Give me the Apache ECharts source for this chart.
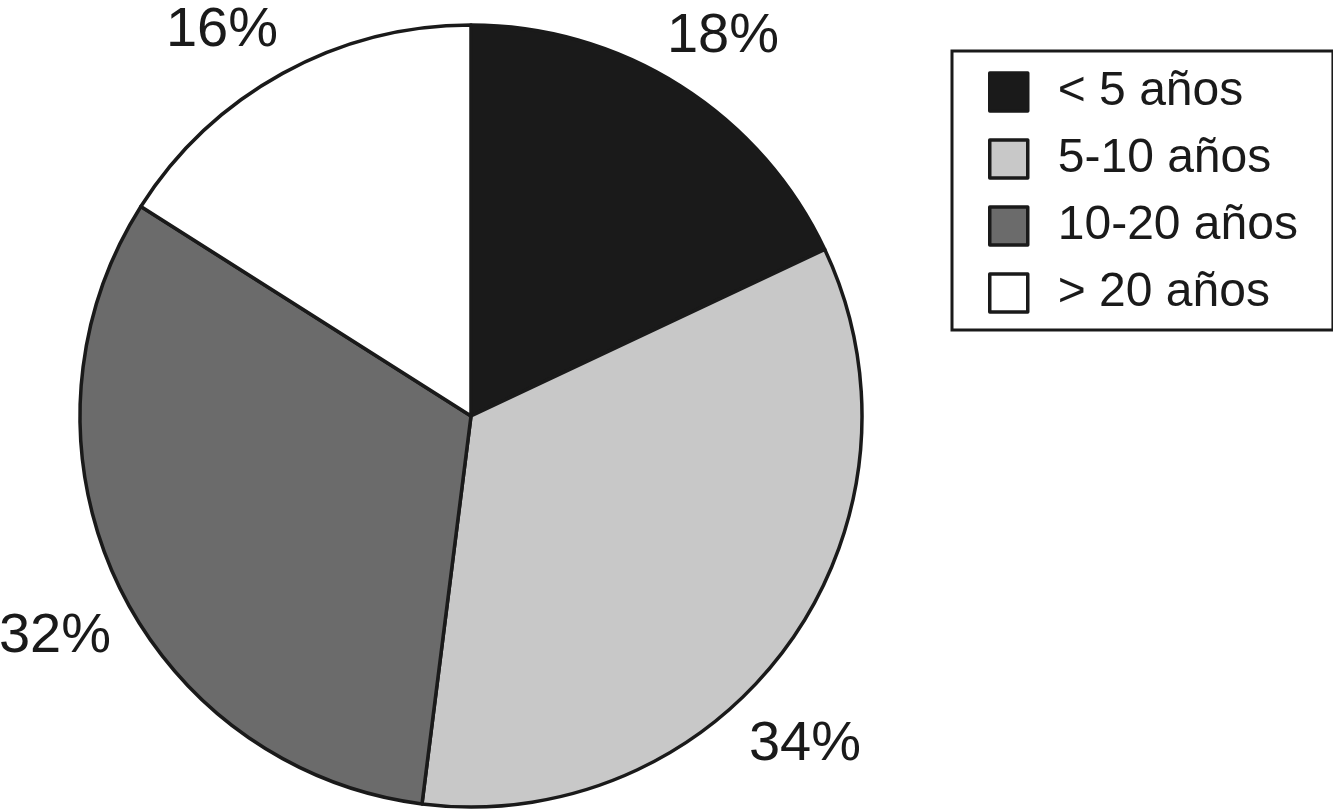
<!DOCTYPE html>
<html>
<head>
<meta charset="utf-8">
<script src="https://cdn.jsdelivr.net/npm/echarts@6/dist/echarts.min.js"></script>
<style>
html,body{margin:0;padding:0;background:#fff;}
#chart{width:1333px;height:812px;}
</style>
</head>
<body>
<div id="chart"></div>
<script>
// Data
var categories = ['< 5 años', '5-10 años', '10-20 años', '> 20 años'];
var values = [18, 34, 32, 16];
var labels = ['18%', '34%', '32%', '16%'];

// Styling / layout (kept separate from data)
var colors = ['#1a1a1a', '#c8c8c8', '#6b6b6b', '#ffffff'];
var pieCenter = [471, 416];
var pieRadius = 391;
// label centre offsets relative to the pie centre
var labelOffsets = [[252, -379], [334, 329], [-416, 221], [-249, -385]];

var chart = echarts.init(document.getElementById('chart'));
var option = {
  backgroundColor: '#ffffff',
  animation: false,
  legend: {
    orient: 'vertical',
    left: 952,
    top: 51,
    padding: [17, 35, 13, 36],
    itemWidth: 38,
    itemHeight: 38,
    itemGap: 19,
    icon: 'rect',
    borderColor: '#1a1a1a',
    borderWidth: 3,
    selectedMode: false,
    data: categories.map(function (c) {
      return { name: c, itemStyle: { borderColor: '#1a1a1a', borderWidth: 3.5 } };
    }),
    textStyle: {
      fontFamily: '"Liberation Sans", Arial, sans-serif',
      fontSize: 48,
      color: '#1a1a1a',
      padding: [0, 0, 0, 25]
    }
  },
  series: [{
    type: 'pie',
    center: pieCenter,
    radius: pieRadius,
    startAngle: 90,
    clockwise: true,
    silent: true,
    itemStyle: { borderColor: '#1a1a1a', borderWidth: 3.5 },
    label: {
      show: true,
      position: 'outside',
      overflow: 'none',
      formatter: function (p) { return labels[p.dataIndex]; },
      fontFamily: '"Liberation Sans Narrow", "Liberation Sans", Arial, sans-serif',
      fontSize: 56,
      color: '#1a1a1a'
    },
    labelLine: { show: false },
    labelLayout: function (p) {
      var o = labelOffsets[p.dataIndex];
      return { x: pieCenter[0] + o[0], y: pieCenter[1] + o[1], align: 'center', verticalAlign: 'middle' };
    },
    data: categories.map(function (c, i) {
      return { name: c, value: values[i], itemStyle: { color: colors[i] } };
    })
  }]
};
chart.setOption(option);
</script>
</body>
</html>
